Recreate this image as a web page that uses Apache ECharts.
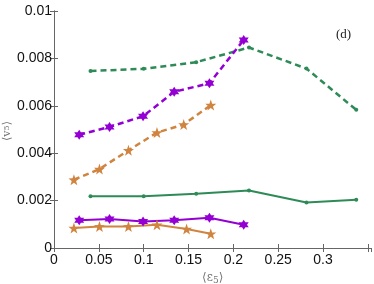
<!DOCTYPE html>
<html>
<head>
<meta charset="utf-8">
<script src="https://cdn.jsdelivr.net/npm/echarts@6/dist/echarts.min.js"></script>
<style>html,body{margin:0;padding:0;background:#fff}#c{width:374px;height:284px}</style>
</head>
<body>
<div id="c"></div>
<script>
// Data
var greenX = [0.0407, 0.1, 0.1585, 0.2174, 0.2815, 0.337];
var greenDashed = [0.00747, 0.00756, 0.00784, 0.00846, 0.00757, 0.00583];
var greenSolid = [0.00218, 0.00218, 0.00229, 0.00243, 0.00192, 0.00204];
var purpleX = [0.0281, 0.0619, 0.0993, 0.134, 0.1733, 0.2115];
var purpleDashed = [0.00478, 0.00511, 0.00556, 0.00659, 0.00695, 0.00878];
var purpleSolid = [0.00117, 0.00122, 0.00112, 0.00117, 0.00128, 0.00098];
var orangeXDashed = [0.0222, 0.0507, 0.083, 0.1148, 0.1446, 0.1748];
var orangeDashed = [0.00288, 0.00333, 0.00412, 0.00487, 0.00521, 0.00603];
var orangeXSolid = [0.0222, 0.0507, 0.083, 0.1148, 0.1478, 0.1748];
var orangeSolid = [0.00084, 0.00091, 0.00091, 0.00098, 0.0008, 0.0006];
var xTicks = [0, 0.05, 0.1, 0.15, 0.2, 0.25, 0.3];

function zip(xs, ys) { return xs.map(function (x, i) { return [x, ys[i]]; }); }

var GREEN = '#2e8b57', PURPLE = '#9400d3', ORANGE = '#d0843f';
var STAR5 = 'path://M0,-10 L2.35,-3.24 L9.51,-3.09 L3.8,1.24 L5.88,8.09 L0,4 L-5.88,8.09 L-3.8,1.24 L-9.51,-3.09 L-2.35,-3.24 Z';
var STAR6 = 'path://M0,-10 L2.89,-5 L8.66,-5 L5.77,0 L8.66,5 L2.89,5 L0,10 L-2.89,5 L-8.66,5 L-5.77,0 L-8.66,-5 L-2.89,-5 Z';
var LABEL_FONT = "'Liberation Sans', Arial, Helvetica, sans-serif";

function ser(data, color, dashed, symbol, size) {
  return {
    type: 'line', data: data, xAxisIndex: 0, yAxisIndex: 0,
    symbol: symbol, symbolSize: size, showAllSymbol: true,
    lineStyle: { color: color, width: dashed ? 2.5 : 2, type: dashed ? [6, 4] : 'solid' },
    itemStyle: { color: color, borderColor: color, borderWidth: 0 },
    emphasis: { disabled: true }, animation: false, z: 3
  };
}

var axisLineStyle = { lineStyle: { color: '#666', width: 1 } };
var chart = echarts.init(document.getElementById('c'), null, { renderer: 'canvas' });
chart.setOption({
  animation: false,
  grid: { left: 54, right: 2.5, top: 11, bottom: 36, containLabel: false, outerBoundsMode: 'none' },
  xAxis: [{
    type: 'value', min: 0, max: 0.354, interval: 0.05,
    axisLine: axisLineStyle,
    axisTick: { show: true, inside: true, length: 4, lineStyle: { color: '#666' } },
    splitLine: { show: false },
    axisLabel: {
      color: '#111', fontSize: 14, fontFamily: LABEL_FONT, margin: 5,
      showMaxLabel: false,
      formatter: function (v) { return xTicks.indexOf(Math.round(v * 100) / 100) >= 0 ? String(Math.round(v * 100) / 100) : ''; }
    },
    name: '⟨ε{s|5}⟩', nameLocation: 'middle', nameGap: 22,
    nameTextStyle: { color: '#777', fontSize: 12, fontFamily: 'DejaVu Serif', rich: { s: { fontSize: 9, color: '#777', fontFamily: 'DejaVu Serif', padding: [5, 0, 0, 0] } } }
  }, {
    type: 'value', position: 'top', min: 0, max: 0.354, interval: 0.05,
    axisLine: axisLineStyle,
    axisTick: { show: true, inside: true, length: 4, lineStyle: { color: '#666' } },
    axisLabel: { show: false }, splitLine: { show: false }
  }],
  yAxis: [{
    type: 'value', min: 0, max: 0.01, interval: 0.002,
    axisLine: { show: true, lineStyle: { color: '#666', width: 1 } },
    axisTick: { show: true, inside: true, length: 4, lineStyle: { color: '#666' } },
    splitLine: { show: false },
    axisLabel: { color: '#111', fontSize: 14, fontFamily: LABEL_FONT, margin: 2,
      formatter: function (v) { return String(Math.round(v * 1000) / 1000); } }
  }, {
    type: 'value', position: 'right', min: 0, max: 0.01, interval: 0.002,
    axisLine: { show: true, lineStyle: { color: '#666', width: 1 } },
    axisTick: { show: true, inside: true, length: 4, lineStyle: { color: '#666' } },
    axisLabel: { show: false }, splitLine: { show: false }
  }],
  graphic: [{
    type: 'text', x: 7, y: 131, rotation: Math.PI / 2,
    style: { text: '⟨v{s|5}⟩', fill: '#777', align: 'center', verticalAlign: 'middle',
      font: '11px "DejaVu Serif", serif',
      rich: { s: { fontSize: 8, fill: '#777', fontFamily: 'DejaVu Serif' } } }
  }, {
    type: 'text', left: 336, top: 28,
    style: { text: '(d)', fill: '#222', font: '13px "Liberation Serif", "DejaVu Serif", serif' }
  }],
  series: [
    ser(zip(greenX, greenDashed), GREEN, true, 'circle', 4),
    ser(zip(greenX, greenSolid), GREEN, false, 'circle', 4),
    ser(zip(purpleX, purpleDashed), PURPLE, true, STAR6, 10),
    ser(zip(purpleX, purpleSolid), PURPLE, false, STAR6, 10),
    ser(zip(orangeXDashed, orangeDashed), ORANGE, true, STAR5, 11),
    ser(zip(orangeXSolid, orangeSolid), ORANGE, false, STAR5, 11)
  ]
});
</script>
</body>
</html>
